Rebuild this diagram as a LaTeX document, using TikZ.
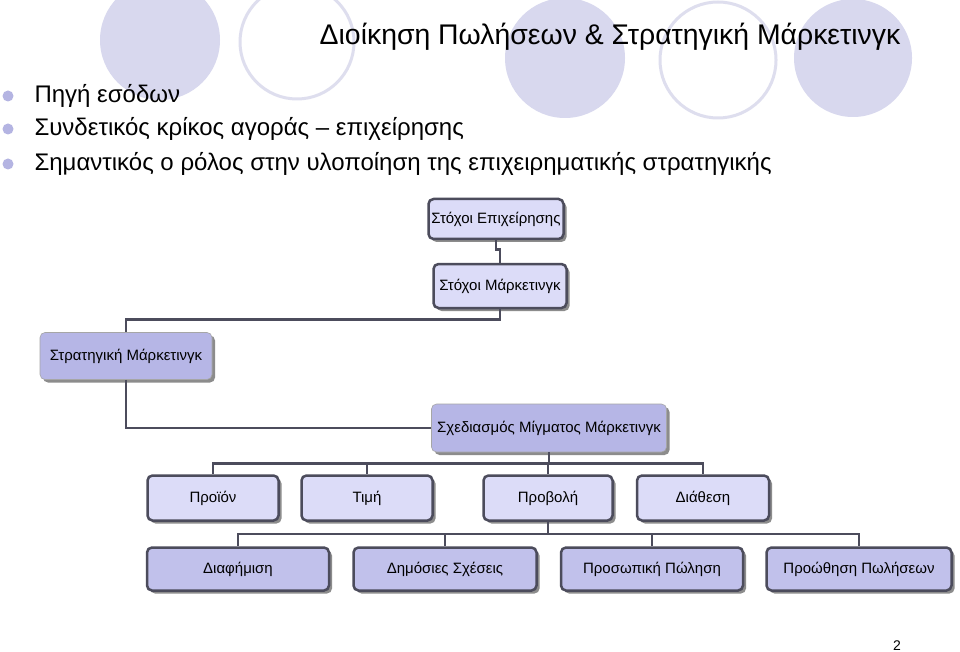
\documentclass[tikz,border=0pt]{standalone}
\usepackage{fontspec}
\setmainfont{Liberation Sans}
\usepackage{tikz}
\usetikzlibrary{shadows}

\definecolor{circfill}{HTML}{D8D8EE}
\definecolor{circline}{HTML}{DEDEEE}
\definecolor{dotcol}{HTML}{B4B4E2}
\definecolor{edgecol}{HTML}{4C4C5C}
\definecolor{lightfill}{HTML}{DCDCF8}
\definecolor{darkfill}{HTML}{B6B6E6}

\begin{document}
\begin{tikzpicture}[x=1pt,y=-1pt,
  lightbox/.style={draw=edgecol, line width=2.5pt, fill=lightfill, rounded corners=5pt,
    drop shadow={shadow xshift=3pt, shadow yshift=-3pt, fill=black!45, opacity=1},
    inner sep=0pt, font=\fontsize{15}{18}\selectfont},
  darkbox/.style={draw=black!35, line width=0.6pt, fill=darkfill, rounded corners=5pt,
    drop shadow={shadow xshift=3pt, shadow yshift=-3pt, fill=black!45, opacity=1},
    inner sep=0pt, font=\fontsize{15}{18}\selectfont},
  link/.style={draw=edgecol, line width=2.5pt},
  bullet/.style={circle, fill=dotcol, inner sep=0pt, minimum size=11pt},
  item/.style={anchor=west, font=\fontsize{24}{28}\selectfont}]

\clip (0,0) rectangle (960,652);
\fill[white] (0,0) rectangle (960,652);

% circles behind the title
\fill[circfill] (160,40) circle (60);
\draw[circline, line width=3pt] (297,42) circle (57);
\fill[circfill] (565,58) circle (60);
\draw[circline, line width=3pt] (718,60) circle (58);
\fill[circfill] (853,58) circle (59);

\node (title) at (610,37) {\fontsize{28.4}{32}\selectfont Διοίκηση Πωλήσεων \& Στρατηγική Μάρκετινγκ};

\node[bullet] (b1) at (8,96) {};
\node[bullet] (b2) at (8,129) {};
\node[bullet] (b3) at (8,164) {};
\node[item] (t1) at (31,96) {Πηγή εσόδων};
\node[item] (t2) at (31,129) {Συνδετικός κρίκος αγοράς – επιχείρησης};
\node[item] (t3) at (31,164) {Σημαντικός ο ρόλος στην υλοποίηση της επιχειρηματικής στρατηγικής};

% tree
\node[lightbox, minimum width=135pt, minimum height=40pt] (goalsbiz) at (496,219) {Στόχοι Επιχείρησης};
\node[lightbox, minimum width=133pt, minimum height=44pt] (goalsmkt) at (500,286) {Στόχοι Μάρκετινγκ};
\node[darkbox, minimum width=172pt, minimum height=47pt] (strategy) at (126,356) {Στρατηγική Μάρκετινγκ};
\node[darkbox, minimum width=235pt, minimum height=48pt] (mixplan) at (549,428) {Σχεδιασμός Μίγματος Μάρκετινγκ};

\node[lightbox, minimum width=131pt, minimum height=45pt] (product) at (213,498) {Προϊόν};
\node[lightbox, minimum width=131pt, minimum height=45pt] (price) at (367,498) {Τιμή};
\node[lightbox, minimum width=129pt, minimum height=45pt] (promotion) at (548,498) {Προβολή};
\node[lightbox, minimum width=132pt, minimum height=45pt] (place) at (703,498) {Διάθεση};

\node[lightbox, fill=darkfill!70!lightfill, minimum width=182pt, minimum height=43pt] (advert) at (238,569) {Διαφήμιση};
\node[lightbox, fill=darkfill!70!lightfill, minimum width=183pt, minimum height=43pt] (pubrel) at (445,569) {Δημόσιες Σχέσεις};
\node[lightbox, fill=darkfill!70!lightfill, minimum width=182pt, minimum height=43pt] (selling) at (652,569) {Προσωπική Πώληση};
\node[lightbox, fill=darkfill!70!lightfill, minimum width=185pt, minimum height=43pt] (salesprom) at (859,569) {Προώθηση Πωλήσεων};

\draw[link] (goalsbiz.south) -- ++(0,9) -| (goalsmkt.north);
\draw[link] (goalsmkt.south) -- ++(0,10) -| (strategy.north);
\draw[link] (strategy.south) |- (mixplan.west);
\draw[link] (mixplan.south) -- ++(0,11) coordinate (bus1);
\foreach \n in {product,price,promotion,place}
  \draw[link] (bus1) -| (\n.north);
\draw[link] (promotion.south) -- ++(0,12) coordinate (bus2);
\foreach \n in {advert,pubrel,selling,salesprom}
  \draw[link] (bus2) -| (\n.north);

\node (pagenum) at (897,646) {\fontsize{14}{16}\selectfont 2};
\end{tikzpicture}
\end{document}
